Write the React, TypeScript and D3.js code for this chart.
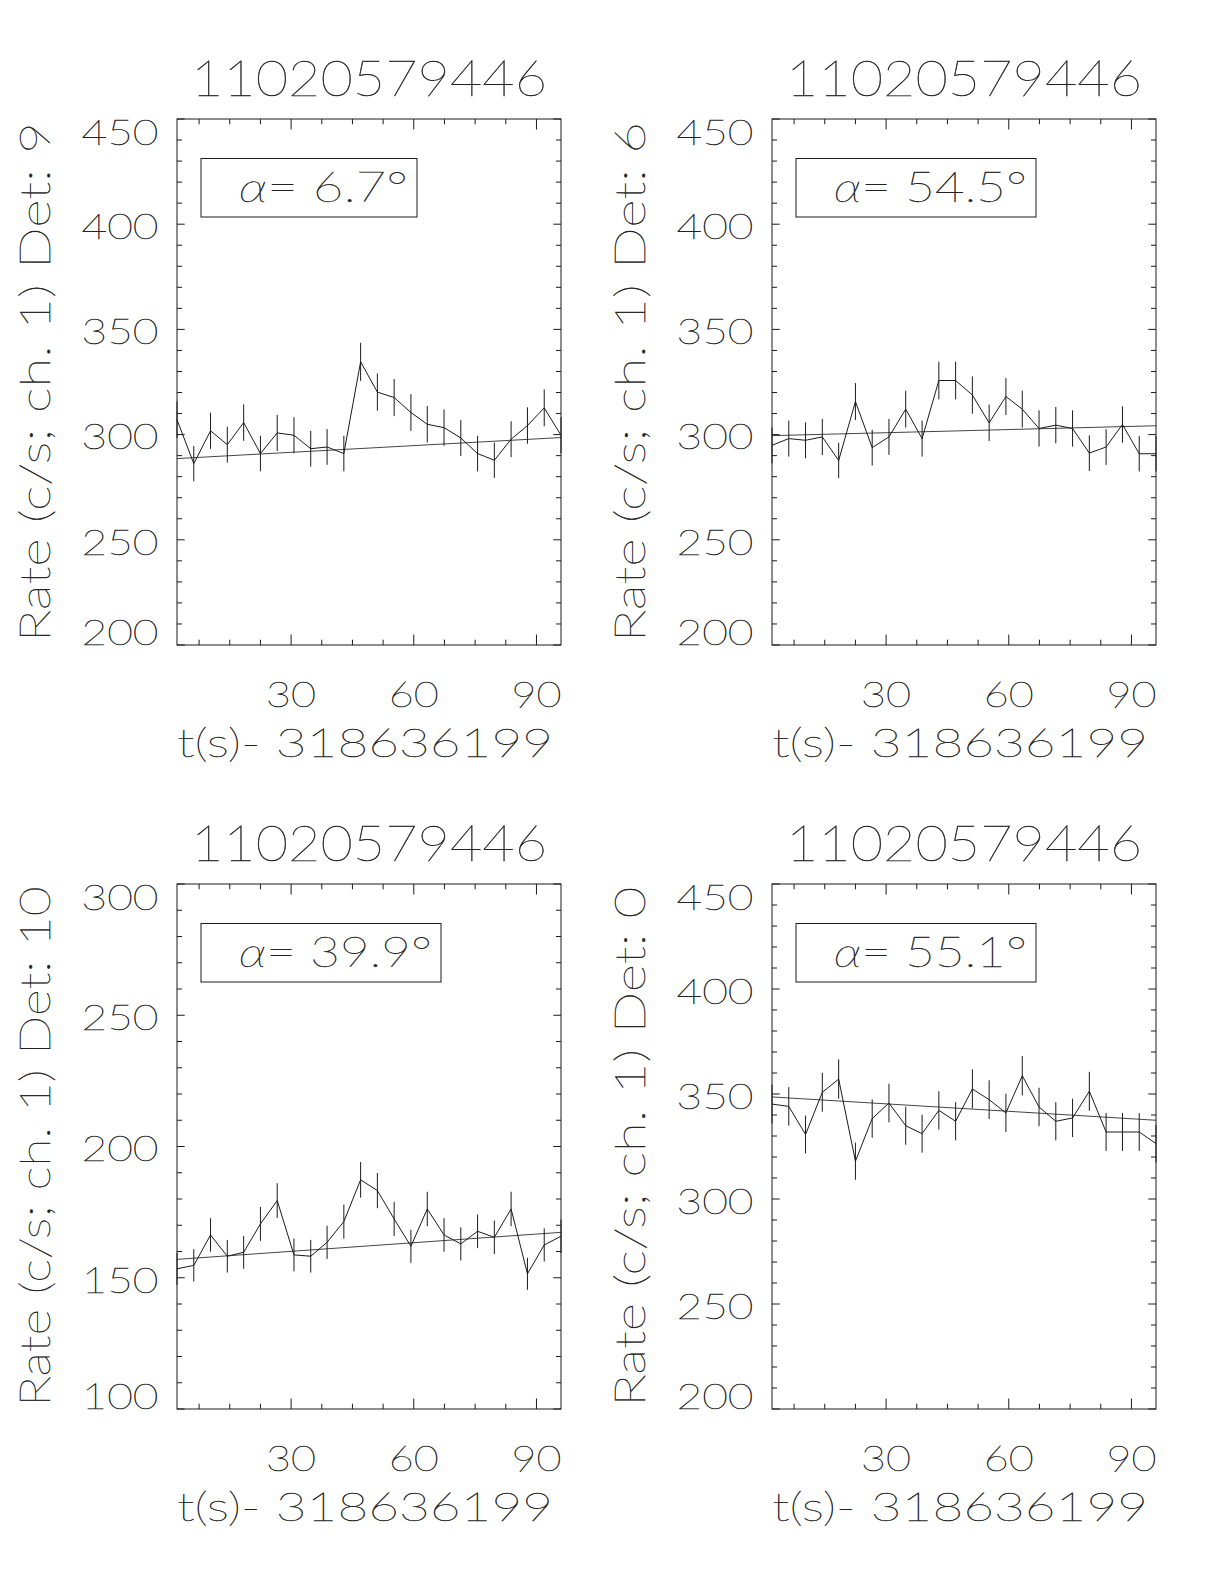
import React from "react";
import * as d3 from "d3";

const TITLE = "11020579446";
const X_TITLE = "t(s)- 318636199";
const Y_TITLE_PREFIX = "Rate (c/s; ch. 1) Det: ";

const TIMES = [2.1, 6.2, 10.3, 14.4, 18.4, 22.5, 26.6, 30.7, 34.8, 38.8, 42.9, 47.0, 51.1, 55.2, 59.3, 63.3, 67.4, 71.5, 75.6, 79.7, 83.8, 87.8, 91.9, 96.0];
const X_DOMAIN = [2.1, 96.0];
const X_MAJOR_TICKS = [30, 60, 90];
const X_MINOR_TICKS = [7.5, 15, 22.5, 37.5, 45, 52.5, 67.5, 75, 82.5];

// Det 9
const DET9_RATE = [307.1, 286.2, 301.8, 295.2, 305.7, 291.0, 300.8, 299.7, 293.3, 294.1, 291.0, 334.6, 320.2, 317.6, 310.5, 304.9, 303.3, 298.4, 291.0, 287.8, 297.8, 304.3, 312.7, 299.7];
const DET9_ERR = [8.68, 8.38, 8.6, 8.51, 8.66, 8.45, 8.59, 8.57, 8.48, 8.49, 8.45, 9.06, 8.86, 8.82, 8.72, 8.64, 8.62, 8.55, 8.45, 8.4, 8.54, 8.64, 8.75, 8.57];
const DET9_FIT = [288.6, 298.6];
const DET9_Y = [200, 450];
const DET9_TICKS = [200, 250, 300, 350, 400, 450];
const DET9_ALPHA = "6.7";

// Det 6
const DET6_RATE = [294.9, 298.1, 297.3, 298.9, 287.7, 315.7, 293.8, 298.9, 312.1, 298.1, 325.7, 325.7, 318.8, 305.6, 318.1, 312.1, 302.9, 304.5, 302.9, 291.2, 294.1, 304.8, 290.9, 290.9];
const DET6_ERR = [8.5, 8.55, 8.54, 8.56, 8.4, 8.8, 8.49, 8.56, 8.75, 8.55, 8.93, 8.93, 8.84, 8.65, 8.83, 8.75, 8.62, 8.64, 8.62, 8.45, 8.49, 8.64, 8.44, 8.44];
const DET6_FIT = [299.5, 304.2];
const DET6_Y = [200, 450];
const DET6_TICKS = [200, 250, 300, 350, 400, 450];
const DET6_ALPHA = "54.5";

// Det 10
const DET10_RATE = [153.4, 154.7, 166.3, 158.2, 159.7, 170.5, 179.4, 158.7, 158.2, 163.5, 171.4, 187.3, 183.2, 172.4, 162.0, 176.2, 166.3, 162.9, 167.7, 165.4, 176.2, 151.5, 162.5, 165.8];
const DET10_ERR = [6.13, 6.16, 6.38, 6.23, 6.26, 6.46, 6.63, 6.24, 6.23, 6.33, 6.48, 6.78, 6.7, 6.5, 6.3, 6.57, 6.38, 6.32, 6.41, 6.37, 6.57, 6.09, 6.31, 6.37];
const DET10_FIT = [157.0, 167.3];
const DET10_Y = [100, 300];
const DET10_TICKS = [100, 150, 200, 250, 300];
const DET10_ALPHA = "39.9";

// Det 0
const DET0_RATE = [345.2, 344.1, 330.7, 350.8, 357.1, 318.0, 338.3, 345.7, 334.9, 331.1, 342.2, 337.0, 352.4, 347.3, 341.0, 358.7, 343.8, 337.0, 338.6, 351.3, 331.9, 331.9, 331.9, 326.4];
const DET0_ERR = [9.2, 9.18, 9.0, 9.27, 9.36, 8.83, 9.11, 9.2, 9.06, 9.01, 9.16, 9.09, 9.29, 9.23, 9.14, 9.38, 9.18, 9.09, 9.11, 9.28, 9.02, 9.02, 9.02, 8.94];
const DET0_FIT = [348.6, 337.5];
const DET0_Y = [200, 450];
const DET0_TICKS = [200, 250, 300, 350, 400, 450];
const DET0_ALPHA = "55.1";

const FONT = "Lato, Roboto, 'DejaVu Sans', sans-serif";
const INK = "#1a1a1a";
const TXT = "#222";

type PanelProps = {
  x0: number; x1: number; y0: number; y1: number;
  det: string; rates: number[]; errs: number[]; fit: number[];
  yDomain: number[]; yTicks: number[]; alpha: string;
};

const txtStyle = { fill: TXT, stroke: TXT, strokeWidth: 0.4 } as const;

function Panel(p: PanelProps) {
  const { x0, x1, y0, y1 } = p;
  const x = d3.scaleLinear().domain(X_DOMAIN).range([x0, x1]);
  const y = d3.scaleLinear().domain(p.yDomain).range([y1, y0]);
  const line = d3.line<number>().x((_, i) => x(TIMES[i])).y((d) => y(d));
  const fitLine = d3.line<number>().x((_, i) => x(X_DOMAIN[i])).y((d) => y(d));
  const yMinor = d3.range(p.yDomain[0], p.yDomain[1] + 0.001, 10);
  const cx = (x0 + x1) / 2;
  const cy = (y0 + y1) / 2;
  const cap = 25.5;
  const xMajLen = 10.5, xMinLen = 5.3, yMajLen = 7.7, yMinLen = 5;
  const aLen = 169 + (p.alpha.length - 3) * 24;
  const boxX = x0 + 24;
  const boxW = aLen + 47;

  return (
    <g>
      <text x={cx} y={y0 - 23} textAnchor="middle" fontSize={49} textLength={356} lengthAdjust="spacingAndGlyphs" {...txtStyle}>{TITLE}</text>
      <path d={fitLine(p.fit) || ""} fill="none" stroke="#444" strokeWidth={1} />
      {p.rates.map((r, i) => (
        <line key={"e" + i} x1={x(TIMES[i])} x2={x(TIMES[i])} y1={y(r - p.errs[i])} y2={y(r + p.errs[i])} stroke={INK} strokeWidth={1} />
      ))}
      <path d={line(p.rates) || ""} fill="none" stroke={INK} strokeWidth={1} />
      <rect x={x0} y={y0} width={x1 - x0} height={y1 - y0} fill="none" stroke={INK} strokeWidth={1} />
      {X_MAJOR_TICKS.map((t) => (
        <g key={"xm" + t}>
          <line x1={x(t)} x2={x(t)} y1={y1} y2={y1 - xMajLen} stroke={INK} />
          <line x1={x(t)} x2={x(t)} y1={y0} y2={y0 + xMajLen} stroke={INK} />
          <text x={x(t)} y={y1 + 62} textAnchor="middle" fontSize={35} textLength={50} lengthAdjust="spacingAndGlyphs" {...txtStyle}>{t}</text>
        </g>
      ))}
      {X_MINOR_TICKS.map((t) => (
        <g key={"xn" + t}>
          <line x1={x(t)} x2={x(t)} y1={y1} y2={y1 - xMinLen} stroke={INK} />
          <line x1={x(t)} x2={x(t)} y1={y0} y2={y0 + xMinLen} stroke={INK} />
        </g>
      ))}
      {yMinor.map((v) => {
        const major = p.yTicks.includes(v);
        const len = major ? yMajLen : yMinLen;
        return (
          <g key={"ym" + v}>
            <line x1={x0} x2={x0 + len} y1={y(v)} y2={y(v)} stroke={INK} />
            <line x1={x1} x2={x1 - len} y1={y(v)} y2={y(v)} stroke={INK} />
          </g>
        );
      })}
      {p.yTicks.map((v) => {
        const base = Math.min(Math.max(y(v) + 2 + cap / 2, y0 + cap), y1);
        return (
          <text key={"yl" + v} x={x0 - 18.5} y={base} textAnchor="end" fontSize={35} textLength={77} lengthAdjust="spacingAndGlyphs" {...txtStyle}>{v}</text>
        );
      })}
      <text x={cx - 4} y={y1 + 112} textAnchor="middle" fontSize={40} textLength={376} lengthAdjust="spacingAndGlyphs" {...txtStyle}>{X_TITLE}</text>
      <text transform={`translate(${x0 - 127},${cy}) rotate(-90)`} textAnchor="middle" fontSize={41} textLength={520} lengthAdjust="spacingAndGlyphs" {...txtStyle}>{Y_TITLE_PREFIX + p.det}</text>
      <rect x={boxX} y={y0 + 39.5} width={boxW} height={58.5} fill="none" stroke={INK} strokeWidth={1} />
      <text x={boxX + 38} y={y0 + 83} fontSize={41} textLength={aLen} lengthAdjust="spacingAndGlyphs" {...txtStyle}>
        <tspan fontStyle="italic">α</tspan>= {p.alpha}°
      </text>
    </g>
  );
}

export default function App() {
  const L = [177, 561];
  const R = [772, 1156];
  const T = [119, 645];
  const B = [884, 1409];
  return (
    <svg width={1224} height={1584} viewBox="0 0 1224 1584" style={{ position: "absolute", left: 0, top: 0, background: "#fff" }} fontFamily={FONT} fontWeight={100}>
      <rect x={0} y={0} width={1224} height={1584} fill="#fff" />
      <Panel x0={L[0]} x1={L[1]} y0={T[0]} y1={T[1]} det="9" rates={DET9_RATE} errs={DET9_ERR} fit={DET9_FIT} yDomain={DET9_Y} yTicks={DET9_TICKS} alpha={DET9_ALPHA} />
      <Panel x0={R[0]} x1={R[1]} y0={T[0]} y1={T[1]} det="6" rates={DET6_RATE} errs={DET6_ERR} fit={DET6_FIT} yDomain={DET6_Y} yTicks={DET6_TICKS} alpha={DET6_ALPHA} />
      <Panel x0={L[0]} x1={L[1]} y0={B[0]} y1={B[1]} det="10" rates={DET10_RATE} errs={DET10_ERR} fit={DET10_FIT} yDomain={DET10_Y} yTicks={DET10_TICKS} alpha={DET10_ALPHA} />
      <Panel x0={R[0]} x1={R[1]} y0={B[0]} y1={B[1]} det="0" rates={DET0_RATE} errs={DET0_ERR} fit={DET0_FIT} yDomain={DET0_Y} yTicks={DET0_TICKS} alpha={DET0_ALPHA} />
    </svg>
  );
}
